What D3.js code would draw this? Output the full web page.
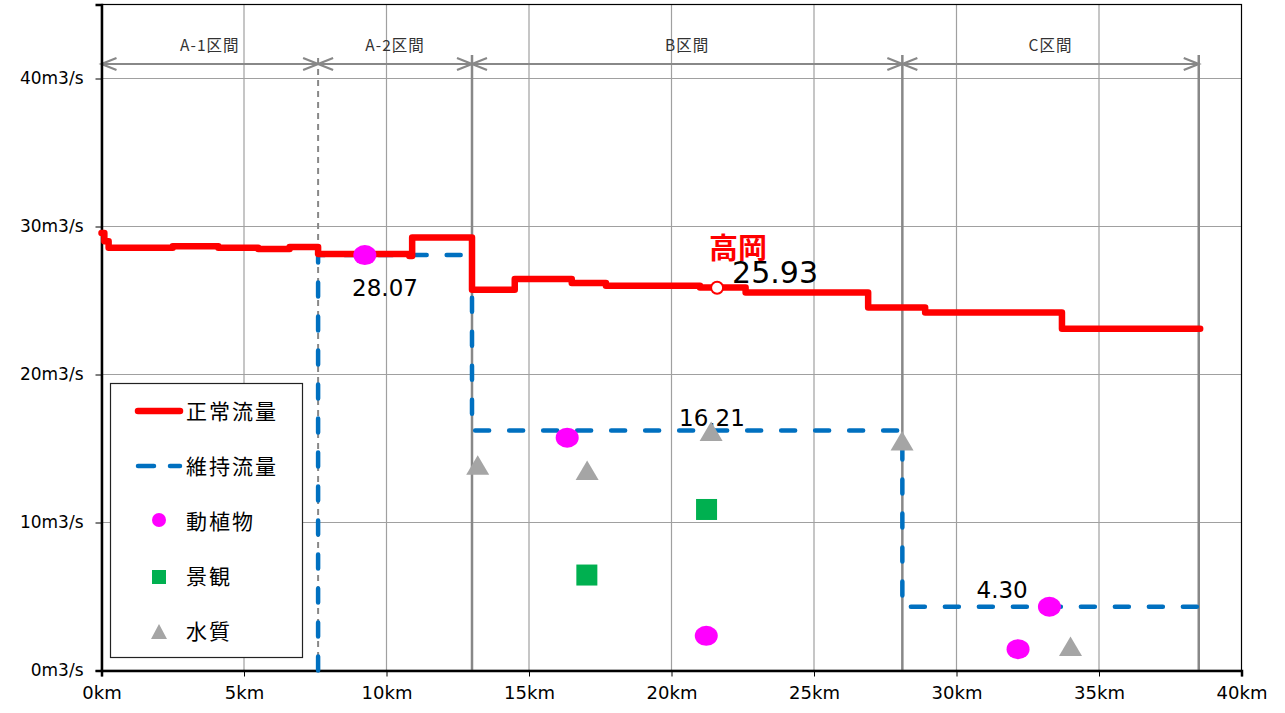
<!DOCTYPE html>
<meta charset="utf-8">
<style>
body { margin: 0; background: #fff; }
text { font-family: "DejaVu Sans", sans-serif; }
.jp { font-family: "Noto Sans CJK JP", sans-serif; }
</style>
<script src="https://cdn.jsdelivr.net/npm/d3@7"></script>
<body>
<script>

// section boundaries (km) and names
var sectionKm = [0, 7.6, 13.0, 28.1, 38.5];
var sectionNames = ["A-1区間", "A-2区間", "B区間", "C区間"];

// 正常流量 (step line)
var normalKm = [0, 0.1, 0.25, 2.5, 4.1, 5.5, 6.6, 7.6, 10.8, 10.9, 13.0, 14.5, 16.5, 17.7, 21.0, 22.6, 26.9, 28.9, 33.7, 38.55];
var normalQ  = [29.56, 29.0, 28.57, 28.67, 28.57, 28.48, 28.62, 28.15, 28.01, 29.25, 25.72, 26.46, 26.19, 25.99, 25.88, 25.54, 24.53, 24.19, 23.09, 23.09];

// 維持流量
var maintKm = [7.6, 7.6, 13.0, 13.0, 28.1, 28.1, 38.5];
var maintQ  = [0, 28.07, 28.07, 16.21, 16.21, 4.30, 4.30];
var maintLabels = ["28.07", "16.21", "4.30"];
var maintLabelKm = [9.6, 21.0, 32.0];
var maintLabelQ = [28.07, 16.21, 4.30];

// 動植物 / 景観 / 水質
var floraKm = [9.24, 16.34, 21.22, 32.16, 33.26];
var floraQ  = [28.07, 15.73, 2.34, 1.44, 4.31];
var sceneKm = [17.03, 21.23];
var sceneQ  = [6.45, 10.88];
var waterKm = [13.2, 17.04, 21.39, 28.09, 34.0];
var waterQ  = [13.86, 13.52, 16.15, 15.5, 1.62];

// 高岡 reference point
var takaokaKm = 21.6, takaokaQ = 25.93;

var xTicks = [0, 5, 10, 15, 20, 25, 30, 35, 40];
var yTicks = [0, 10, 20, 30, 40];

var width = 1285, height = 713;

var svg = d3.select("body").append("svg")
    .attr("width", width)
    .attr("height", height);

var x = d3.scaleLinear().domain([0, 40]).range([101.5, 1241.5]);
var y = d3.scaleLinear().domain([0, 45]).range([670.5, 4.5]);

// grid
svg.append("g").selectAll("line").data(xTicks.slice(1, -1)).enter().append("line")
    .attr("x1", d => x(d)).attr("x2", d => x(d))
    .attr("y1", y(45)).attr("y2", y(0))
    .attr("stroke", "#a0a0a0").attr("stroke-width", 1.2);
svg.append("g").selectAll("line").data(yTicks.slice(1)).enter().append("line")
    .attr("x1", x(0)).attr("x2", x(40))
    .attr("y1", d => y(d)).attr("y2", d => y(d))
    .attr("stroke", "#a0a0a0").attr("stroke-width", 1.2);

// frame
svg.append("rect")
    .attr("x", x(0)).attr("y", y(45))
    .attr("width", x(40) - x(0)).attr("height", y(0) - y(45))
    .attr("fill", "none").attr("stroke", "#000").attr("stroke-width", 1.2);

// section lines
var arrowY = 64;
svg.append("g").selectAll("line").data(sectionKm.slice(1)).enter().append("line")
    .attr("x1", d => x(d)).attr("x2", d => x(d))
    .attr("y1", (d, i) => i == 0 ? 58 : 55).attr("y2", y(0))
    .attr("stroke", "#888")
    .attr("stroke-width", (d, i) => i == 0 ? 2 : 2.5)
    .attr("stroke-dasharray", (d, i) => i == 0 ? "6,5" : null);

// section arrows
var arrows = svg.append("g").attr("stroke", "#888").attr("stroke-width", 2.2).attr("fill", "none");
for (var i = 0; i < sectionNames.length; i++) {
  var a = x(sectionKm[i]), b = x(sectionKm[i + 1]);
  arrows.append("line").attr("x1", a).attr("x2", b).attr("y1", arrowY).attr("y2", arrowY);
  arrows.append("path").attr("d", "M" + (a + 15) + "," + (arrowY - 6) + "L" + a + "," + arrowY + "L" + (a + 15) + "," + (arrowY + 6));
  arrows.append("path").attr("d", "M" + (b - 15) + "," + (arrowY - 6) + "L" + b + "," + arrowY + "L" + (b - 15) + "," + (arrowY + 6));
  svg.append("text").attr("class", "jp")
      .attr("x", (a + b) / 2).attr("y", 51)
      .attr("text-anchor", "middle")
      .attr("font-size", 15.5).attr("letter-spacing", 1)
      .attr("fill", "#333")
      .text(sectionNames[i]);
}

// axes
var xAxis = d3.axisBottom(x).tickValues(xTicks).tickSize(6).tickFormat(d => d + "km");
svg.append("g").attr("transform", "translate(0," + y(0) + ")").call(xAxis)
  .call(g => g.select(".domain").attr("stroke-width", 2.5))
  .call(g => g.selectAll("text").attr("font-size", 18).attr("dy", "1.1em").attr("fill", "#000").style("font-family", "DejaVu Sans"));

var yAxis = d3.axisLeft(y).tickValues(yTicks).tickSize(6).tickFormat(d => d + "m3/s");
svg.append("g").attr("transform", "translate(" + x(0) + ",0)").call(yAxis)
  .call(g => g.select(".domain").attr("stroke-width", 2.5))
  .call(g => g.selectAll("text").attr("font-size", 17).attr("x", -18).attr("fill", "#000").style("font-family", "DejaVu Sans"));

// 維持流量 line
var maintLine = d3.line().x(d => x(d[0])).y(d => y(d[1]));
svg.append("path")
    .datum(d3.zip(maintKm, maintQ))
    .attr("d", maintLine)
    .attr("fill", "none")
    .attr("stroke", "#0070c0")
    .attr("stroke-width", 4.5)
    .attr("stroke-linecap", "round")
    .attr("stroke-dasharray", "14,20");

// 正常流量 line
var normalLine = d3.line().x(d => x(d[0])).y(d => y(d[1])).curve(d3.curveStepAfter);
svg.append("path")
    .datum(d3.zip(normalKm, normalQ))
    .attr("d", normalLine)
    .attr("fill", "none")
    .attr("stroke", "#ff0000")
    .attr("stroke-width", 6.5)
    .attr("stroke-linejoin", "round")
    .attr("stroke-linecap", "round");

// maintenance labels
var labelDx = [-23, -21, -37], labelDy = [41, -5, -9];
maintLabels.forEach(function(t, i) {
  svg.append("text")
      .attr("x", x(maintLabelKm[i]) + labelDx[i])
      .attr("y", y(maintLabelQ[i]) + labelDy[i])
      .attr("font-size", 23)
      .attr("fill", "#000")
      .text(t);
});

// points
function triPath(cx, cy) {
  return "M" + cx + "," + (cy - 10) + "L" + (cx + 11.5) + "," + (cy + 9.5) + "L" + (cx - 11.5) + "," + (cy + 9.5) + "Z";
}
svg.append("g").selectAll("path").data(d3.zip(waterKm, waterQ)).enter().append("path")
    .attr("d", d => triPath(x(d[0]), y(d[1])))
    .attr("fill", "#a5a5a5");
svg.append("g").selectAll("rect").data(d3.zip(sceneKm, sceneQ)).enter().append("rect")
    .attr("x", d => x(d[0]) - 10.5).attr("y", d => y(d[1]) - 10.5)
    .attr("width", 21).attr("height", 21)
    .attr("fill", "#00b050");
svg.append("g").selectAll("ellipse").data(d3.zip(floraKm, floraQ)).enter().append("ellipse")
    .attr("cx", d => x(d[0])).attr("cy", d => y(d[1]))
    .attr("rx", 11.5).attr("ry", 10)
    .attr("fill", "#ff00ff");

// 高岡
svg.append("circle")
    .attr("cx", x(takaokaKm)).attr("cy", y(takaokaQ) + 1)
    .attr("r", 6)
    .attr("fill", "#fff").attr("stroke", "#ff0000").attr("stroke-width", 2);
svg.append("text").attr("class", "jp")
    .attr("x", x(takaokaKm) - 8).attr("y", y(takaokaQ) - 28)
    .attr("font-size", 29).attr("font-weight", "bold")
    .attr("fill", "#ff0000")
    .text("高岡");
svg.append("text")
    .attr("x", x(takaokaKm) + 15).attr("y", y(takaokaQ) - 4)
    .attr("font-size", 30)
    .attr("fill", "#000")
    .text(takaokaQ.toFixed(2));

// legend
var legend = svg.append("g");
legend.append("rect")
    .attr("x", 110.5).attr("y", 383.5).attr("width", 192).attr("height", 274)
    .attr("fill", "#fff").attr("stroke", "#222").attr("stroke-width", 1.2);
var legendNames = ["正常流量", "維持流量", "動植物", "景観", "水質"];
legendNames.forEach(function(name, i) {
  var ly = 411 + i * 55;
  var g = legend.append("g");
  if (i == 0) {
    g.append("line").attr("x1", 138).attr("x2", 180).attr("y1", ly).attr("y2", ly)
        .attr("stroke", "#ff0000").attr("stroke-width", 6.5).attr("stroke-linecap", "round");
  } else if (i == 1) {
    g.append("line").attr("x1", 138).attr("x2", 180).attr("y1", ly).attr("y2", ly)
        .attr("stroke", "#0070c0").attr("stroke-width", 4.5).attr("stroke-linecap", "round")
        .attr("stroke-dasharray", "16,16");
  } else if (i == 2) {
    g.append("circle").attr("cx", 159).attr("cy", ly - 1).attr("r", 7).attr("fill", "#ff00ff");
  } else if (i == 3) {
    g.append("rect").attr("x", 152).attr("y", ly - 6).attr("width", 14).attr("height", 14).attr("fill", "#00b050");
  } else {
    g.append("path").attr("d", "M159," + (ly - 7) + "L167," + (ly + 8) + "L151," + (ly + 8) + "Z").attr("fill", "#a5a5a5");
  }
  g.append("text").attr("class", "jp")
      .attr("x", 186).attr("y", ly + 8)
      .attr("font-size", 21).attr("letter-spacing", 2)
      .attr("fill", "#000")
      .text(name);
});

</script>
</body>
